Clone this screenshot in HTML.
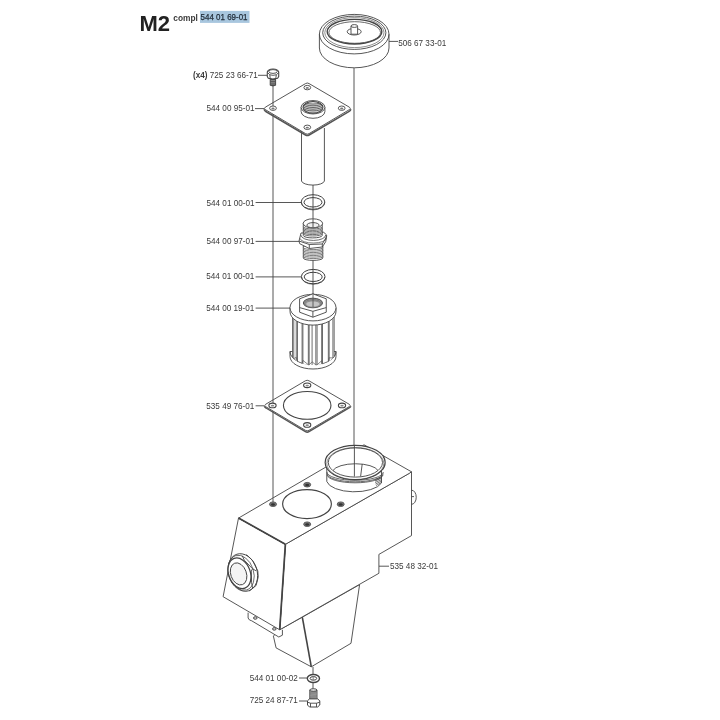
<!DOCTYPE html>
<html><head><meta charset="utf-8">
<style>
html,body{margin:0;padding:0;background:#fff;}
svg{display:block;will-change:transform;}
text{font-family:"Liberation Sans",sans-serif;fill:#3a3a3a;}
</style></head><body>
<svg width="720" height="720" viewBox="0 0 720 720">
<g id="lines" stroke="#444" stroke-width="0.9" fill="none">
<!-- leaders -->
<path d="M389 41.4H398 M258 75.3H267 M255 108.6H264 M255.6 202.5H301.2 M255.6 241.4H299.4 M255.6 276.9H301.4 M255.6 308.1H290 M255.6 405.8H264 M379 566.2H389 M299 678H307.4 M299 701H307.4"/>
<!-- long verticals -->
<path d="M354 68V445 M273 86V501.7"/>
<!-- centerline -->
<path d="M313 185V297 M313 666.8V690"/>
</g>
<g id="title">
<text x="139.5" y="30.5" font-size="22" font-weight="bold" fill="#222" style="fill:#222">M2</text>
<text x="173.3" y="20.5" font-size="9" font-weight="bold" textLength="24.6" lengthAdjust="spacingAndGlyphs">compl</text>
<rect x="200" y="10.9" width="49.5" height="12" fill="#a8c6de"/>
<text x="200.6" y="19.9" font-size="9" textLength="46.9" lengthAdjust="spacingAndGlyphs" style="fill:#1f2a36;stroke:#1f2a36;stroke-width:0.25">544 01 69-01</text>
</g>

<g id="housing" stroke="#444" stroke-width="0.9" fill="#fff" stroke-linejoin="round">
<!-- lower tapered section -->
<path d="M273.4 636.1L276.1 647.9L311.3 666.8L351 643.3L359.6 584.6L302.3 617.2L279.7 629.8Z"/>
<path d="M302.3 617.2L311.3 666.8" stroke-width="1.6"/>
<!-- bracket -->
<path d="M248.1 612.6V618Q249 620.5 251.7 620.8L278.8 637L282.4 635.2V629.8"/>
<ellipse cx="255.3" cy="618" rx="1.8" ry="1.3" fill="#ccc"/>
<ellipse cx="274.3" cy="628.9" rx="1.8" ry="1.3" fill="#ccc"/>
<!-- right face -->
<path d="M285.4 544.3L409.5 473.2L411.5 471.8V535.6L378.9 554.4V573.3L279.7 629.8Z"/>
<!-- left face -->
<path d="M238.5 518.1L223.1 596.7L279.7 629.8L285.4 544.3Z"/>
<path d="M285.4 544.3L279.7 629.8" stroke-width="1.7"/>
<!-- top face -->
<path d="M238.5 518.1L364 444.8L411.5 471.8L409.5 473.2L285.4 544.3Z"/>
<path d="M238.5 518.1L285.4 544.3" stroke-width="1.7"/>
<!-- top opening and holes -->
<path d="M273 498.2V502" fill="none"/>
<ellipse cx="307" cy="504.1" rx="24.4" ry="14.5" stroke-width="1.15"/>
<ellipse cx="273" cy="504.2" rx="3.5" ry="2.3" fill="#777" stroke="#555"/><ellipse cx="273" cy="504.5" rx="2" ry="1.2" fill="#333" stroke="none"/>
<ellipse cx="307.2" cy="484.7" rx="3.5" ry="2.3" fill="#777" stroke="#555"/><ellipse cx="307.2" cy="485.0" rx="2" ry="1.2" fill="#333" stroke="none"/>
<ellipse cx="340.7" cy="504.2" rx="3.5" ry="2.3" fill="#777" stroke="#555"/><ellipse cx="340.7" cy="504.5" rx="2" ry="1.2" fill="#333" stroke="none"/>
<ellipse cx="307.2" cy="524.2" rx="3.5" ry="2.3" fill="#777" stroke="#555"/><ellipse cx="307.2" cy="524.5" rx="2" ry="1.2" fill="#333" stroke="none"/>
<!-- knob right -->
<path d="M411.6 490.2A4.6 7 0 0 1 411.6 504.3 M411.6 496.6H414" fill="none"/>
<!-- neck -->
<path d="M326.8 466V481.5A28 12 0 0 0 381.5 483V466Z"/>
<path d="M326.9 472A28.2 8.3 0 0 0 383.3 472 M327 473.5A28.1 8.3 0 0 0 383.2 473.5 M327.1 475A28 8.3 0 0 0 383 475" fill="none" stroke-width="0.8"/>
<path d="M375 479.5L382 476.5 M375 481L382 478 M375 482.5L382 479.5 M375.5 484L381.8 481 M376 485.5L381.5 482.5" fill="none" stroke-width="0.7"/>
<ellipse cx="355.15" cy="462.5" rx="30" ry="17.2" stroke-width="1.2"/>
<ellipse cx="355.4" cy="462.5" rx="27.1" ry="14.6"/>
<ellipse cx="355.3" cy="463.5" rx="28.5" ry="16" fill="none" stroke-width="0.6"/>
<path d="M333 470.5A23 8.5 0 0 1 378 470.5" fill="none"/>
<path d="M354.4 445V476.5 M362.2 464L360.6 476.5" fill="none"/>
<!-- sight glass -->
<ellipse cx="242.8" cy="572.5" rx="14.3" ry="19.2" transform="rotate(-18 242.8 572.5)"/>
<ellipse cx="241.2" cy="572.8" rx="12.4" ry="18" transform="rotate(-18 241.2 572.8)" fill="none" stroke-width="0.7"/>
<ellipse cx="239.5" cy="573.3" rx="10.8" ry="15.8" transform="rotate(-20 239.5 573.3)" stroke-width="1.3"/>
<ellipse cx="238.6" cy="573.9" rx="7.8" ry="11.4" transform="rotate(-20 238.6 573.9)" fill="#f4f4f4"/>
<path d="M242.2 555.6L244.3 560.2L252.6 568.8L256.1 570.9 M252.6 568.8L251.25 570.9L251.6 582.7L252.6 588.3 M246.4 554.6L252.6 560.5L257.8 570.9L258.2 577.2L256.1 585.5L249.2 591" fill="none" stroke-width="0.9"/>
</g>

<g id="bottom" stroke="#444" stroke-width="0.9" fill="#fff">
<ellipse cx="313.4" cy="678.5" rx="6.1" ry="4" stroke-width="1.4"/>
<ellipse cx="313.4" cy="678.4" rx="3.3" ry="1.8" stroke-width="1"/>
<path d="M313.2 676.6V680.2" stroke="#666" stroke-width="0.8"/>
<path d="M309.8 690V700H317V690Z" fill="#777"/>
<path d="M309.9 691.6L317 692.1 M309.9 692.9L317 693.4 M309.9 694.2L317 694.7 M309.9 695.5L317 696.0 M309.9 696.8L317 697.3 M309.9 698.1L317 698.6 " stroke="#aaa" stroke-width="0.6"/>
<ellipse cx="313.4" cy="690" rx="3.6" ry="1.3" fill="#e8e8e8"/>
<path d="M307.5 700.8L309.5 698.9H317.6L319.8 700.8V705L317.6 707H309.5L307.5 705Z" stroke-width="1"/>
<path d="M307.5 702.2L310.5 703.2H316.5L319.8 702.2 M310.5 703.2V707 M316.5 703.2V707" fill="none"/>
</g>
<g id="labels" font-size="9">
<text x="398.2" y="45.6" textLength="48" lengthAdjust="spacingAndGlyphs">506 67 33-01</text>
<text x="206.5" y="111.2" textLength="48" lengthAdjust="spacingAndGlyphs">544 00 95-01</text>
<text x="206.5" y="205.6" textLength="48" lengthAdjust="spacingAndGlyphs">544 01 00-01</text>
<text x="206.5" y="244.0" textLength="48" lengthAdjust="spacingAndGlyphs">544 00 97-01</text>
<text x="206.3" y="279.3" textLength="48" lengthAdjust="spacingAndGlyphs">544 01 00-01</text>
<text x="206.3" y="311.0" textLength="48" lengthAdjust="spacingAndGlyphs">544 00 19-01</text>
<text x="206.3" y="408.6" textLength="48" lengthAdjust="spacingAndGlyphs">535 49 76-01</text>
<text x="390.0" y="568.7" textLength="48" lengthAdjust="spacingAndGlyphs">535 48 32-01</text>
<text x="249.7" y="680.8" textLength="48" lengthAdjust="spacingAndGlyphs">544 01 00-02</text>
<text x="249.7" y="703.3" textLength="48" lengthAdjust="spacingAndGlyphs">725 24 87-71</text>
<text x="193" y="78.3" textLength="64.8" lengthAdjust="spacingAndGlyphs"><tspan font-weight="bold">(x4)</tspan> 725 23 66-71</text>
</g>


<g id="cap" stroke="#444" stroke-width="0.9" fill="none">
<path d="M319.4 34.2V48A34.8 19.8 0 0 0 389 48V34.2"/>
<ellipse cx="354.2" cy="34.15" rx="34.8" ry="19.75"/>
<ellipse cx="354.3" cy="32.75" rx="31.6" ry="16.65"/>
<ellipse cx="354.4" cy="32.6" rx="29.6" ry="15" stroke-width="0.6"/>
<ellipse cx="354.5" cy="31.7" rx="27.3" ry="12.3" stroke-width="1.4"/>
<ellipse cx="354.7" cy="32.5" rx="25.8" ry="10.8" stroke-width="0.8"/>
<ellipse cx="354.2" cy="31.7" rx="7" ry="3.3"/>
<path d="M351 26V34.2H357.6V26" fill="#fff"/>
<ellipse cx="354.3" cy="26" rx="3.3" ry="1.4" fill="#fff"/>
</g>

<g id="bolt1" stroke="#444" stroke-width="0.9" fill="#fff">
<path d="M270.2 78.5V85.3Q272.9 86.6 275.6 85.3V78.5Z" fill="#4a4a4a"/>
<path d="M270.8 80.6H275 M270.8 82.3H275 M270.8 84H275" stroke="#bbb" stroke-width="0.6"/>
<path d="M267.3 72Q268 69.2 273 69Q278 69.2 278.7 72V76.5L277.6 78.2L272.8 79L268.3 78.2L267.3 76.5Z" stroke-width="1.1"/>
<ellipse cx="273" cy="71.5" rx="4.2" ry="1.9" stroke-width="0.9"/>
<path d="M267.6 72.6L269.8 74.8L273 75.3L276.3 74.8L278.4 72.8 M269.8 74.8L270.2 78.5 M276.3 74.8L275.8 78.5" fill="none" stroke-width="0.9"/>
</g>
<g id="plate" stroke="#444" stroke-width="0.9" fill="#fff">
<path d="M301.5 128V181A11.5 4.5 0 0 0 324.4 181V128"/>
<path d="M305.5 83.6Q307.3 82.4 309.1 83.6L349.4 107.2Q351.2 108.4 349.4 109.6L309.1 133.6Q307.3 134.8 305.5 133.6L265.3 109.6Q263.5 108.4 265.3 107.2Z"/>
<path d="M264 109.3Q264.5 110.8 265.8 111.5L305.5 135Q307.3 136.1 309.1 135L349.2 111.3Q350.5 110.6 350.9 109.3" fill="none" stroke-width="1.5" stroke="#555"/>
<ellipse cx="307.3" cy="87.6" rx="3.4" ry="2.2"/><ellipse cx="307.3" cy="87.89999999999999" rx="1.6" ry="0.9" fill="#777" stroke="none"/>
<ellipse cx="273" cy="108.2" rx="3.4" ry="2.2"/><ellipse cx="273" cy="108.5" rx="1.6" ry="0.9" fill="#777" stroke="none"/>
<ellipse cx="341.7" cy="108.2" rx="3.4" ry="2.2"/><ellipse cx="341.7" cy="108.5" rx="1.6" ry="0.9" fill="#777" stroke="none"/>
<ellipse cx="307.3" cy="127.3" rx="3.4" ry="2.2"/><ellipse cx="307.3" cy="127.6" rx="1.6" ry="0.9" fill="#777" stroke="none"/>
<clipPath id="bore"><ellipse cx="313" cy="107.3" rx="10" ry="5.8"/></clipPath>
<path d="M301.1 107.25V111.6A11.9 6.7 0 0 0 324.9 111.6V107.25"/>
<ellipse cx="313" cy="107.25" rx="11.9" ry="6.7"/>
<ellipse cx="313" cy="107.3" rx="10" ry="5.8" fill="#dedede" stroke-width="1.1"/>
<path d="M303 100.5A10 3.6 0 0 0 323 100.5 M303 102.2A10 3.6 0 0 0 323 102.2 M303 103.9A10 3.6 0 0 0 323 103.9 M303 105.6A10 3.6 0 0 0 323 105.6 M303 107.3A10 3.6 0 0 0 323 107.3 " fill="none" stroke="#555" stroke-width="0.9" clip-path="url(#bore)"/>
<path d="M273 102.6V106" fill="none"/>
</g>

<g id="oring1" stroke="#404040" stroke-width="1" fill="none">
<path d="M301.4 202.6A11.7 7.3 0 0 0 324.8 202.6" stroke-width="0.7"/>
<ellipse cx="313" cy="202" rx="11.8" ry="7.3"/>
<ellipse cx="313" cy="202.3" rx="9" ry="4.7"/>
</g>
<g id="oring2" stroke="#404040" stroke-width="1" fill="none">
<path d="M301.5 277A11.7 7.2 0 0 0 324.9 277" stroke-width="0.7"/>
<ellipse cx="313.2" cy="276.6" rx="11.8" ry="7.2"/>
<ellipse cx="313.2" cy="276.9" rx="9" ry="4.6"/>
</g>
<g id="fitting" stroke="#444" stroke-width="0.9" fill="#fff">
<path d="M303.3 246V258A9.75 2.4 0 0 0 322.8 258V246Z"/>
<path d="M303.4 247.6A9.7 2 0 0 0 322.8 247.6 M303.4 249.1A9.7 2 0 0 0 322.8 249.1 M303.4 250.6A9.7 2 0 0 0 322.8 250.6 M303.4 252.1A9.7 2 0 0 0 322.8 252.1 M303.4 253.6A9.7 2 0 0 0 322.8 253.6 M303.4 255.1A9.7 2 0 0 0 322.8 255.1 M303.4 256.6A9.7 2 0 0 0 322.8 256.6 " fill="none" stroke-width="0.75" stroke="#555"/>
<path d="M299 241L301 233L323.7 232.3L326.7 235L325.7 241.7L322.3 247L309.3 248.5L299.7 243.7Z"/>
<path d="M299 241L309.3 244.5L322.3 244L326.6 236.5 M309.3 244.5V248.5 M322.3 244V247" fill="none"/>
<path d="M301 235.2A12.1 5.2 0 0 0 325.7 235" fill="none" stroke-width="0.8"/>
<path d="M300.2 238.5A12.8 4.6 0 0 0 326.3 238.2" fill="none" stroke-width="0.7"/>
<path d="M303.3 223V235.5A9.45 2.4 0 0 0 322.2 235.5V223Z"/>
<path d="M303.4 226.8A9.4 2.2 0 0 0 322.2 226.8 M303.4 228.2A9.4 2.2 0 0 0 322.2 228.2 M303.4 229.6A9.4 2.2 0 0 0 322.2 229.6 M303.4 231.0A9.4 2.2 0 0 0 322.2 231.0 M303.4 232.4A9.4 2.2 0 0 0 322.2 232.4 M303.4 233.8A9.4 2.2 0 0 0 322.2 233.8 " fill="none" stroke-width="0.8" stroke="#4a4a4a"/>
<ellipse cx="312.9" cy="223.4" rx="9.7" ry="4.6"/>
<ellipse cx="313" cy="225.2" rx="6.1" ry="2.6" fill="#f0f0f0"/>
<path d="M313 219V227.5" fill="none"/>
</g>
<g id="filter" stroke="#444" stroke-width="0.9" fill="#fff">
<path d="M290 351.5V356.5A23 12.5 0 0 0 336 356.5V351.5Z"/>
<path d="M290 351.5A23 13 0 0 0 336 351.5" fill="none"/>
<path d="M292.5 318V354A20.75 11 0 0 0 334 354V318Z" stroke="none"/>
<path d="M292.50 317.63V357.35 M293.75 318.88V358.66 M296.25 320.71V360.59 M297.50 321.43V361.34 M302.08 323.31V363.32 M302.92 323.55V363.58 M308.33 324.62V364.71 M309.17 324.71V364.80 M312.08 324.89V364.99 M315.83 324.80V364.89 M317.08 324.69V364.78 M321.67 323.92V363.97 M322.50 323.71V363.75 M328.33 321.51V361.43 M329.17 321.06V360.96 M332.92 318.25V358.00 M334.17 316.80V356.48 " fill="none" stroke-width="0.8" stroke="#4a4a4a"/>
<path d="M293.75 358.66L293.75 358.66L296.25 357.39L297.50 361.34L302.08 363.32L302.92 360.38L308.33 364.71L309.17 364.80L312.08 361.79L315.83 364.89L317.08 364.78L321.67 360.77L322.50 363.75L328.33 361.43L329.17 357.76L332.92 358.00" fill="none" stroke-width="0.7" stroke="#555"/>
<path d="M290 307.6V311.6A23 13.5 0 0 0 336 311.6V307.6Z"/>
<ellipse cx="313" cy="307.6" rx="23" ry="13.3"/>
<path d="M299.6 298.8L312.9 293.8L326.25 298.8V312.2L312.9 317.2L299.6 312.2Z"/>
<path d="M299.6 307.6L312.9 311.3L326.25 307.6 M312.9 311.3V317.2" fill="none"/>
<ellipse cx="312.9" cy="303" rx="9.6" ry="4.8" fill="#9a9a9a"/>
<ellipse cx="312.9" cy="303.5" rx="8.4" ry="3.9" fill="none" stroke="#666" stroke-width="0.6"/>
<ellipse cx="312.9" cy="304" rx="7.2" ry="3.1" fill="#c4c4c4" stroke="#777" stroke-width="0.6"/>
<path d="M313 293.5V307" fill="none" stroke="#555"/>
</g>
<g id="gasket" stroke="#444" stroke-width="0.9" fill="#fff">
<path d="M264.2 406.2Q264.8 407.4 266 408L305.4 431.6Q307.2 432.8 309 431.6L349.5 407.6Q350.6 407 350.9 406.2" fill="none" stroke-width="1.4" stroke="#555"/>
<path d="M305.4 380.8Q307.2 379.7 309 380.8L349.3 404.3Q351 405.4 349.3 406.6L309 430.3Q307.2 431.4 305.4 430.3L265.6 406.6Q263.9 405.4 265.6 404.3Z"/>
<ellipse cx="307.2" cy="405.4" rx="23.75" ry="13.9" stroke-width="1.1"/>
<path d="M273 400V403.3" fill="none"/>
<ellipse cx="307.2" cy="385.3" rx="3.6" ry="2.3" stroke-width="1.1"/><ellipse cx="307.2" cy="385.6" rx="1.7" ry="0.9" fill="#888" stroke="none"/>
<ellipse cx="272.5" cy="405.4" rx="3.6" ry="2.3" stroke-width="1.1"/><ellipse cx="272.5" cy="405.7" rx="1.7" ry="0.9" fill="#888" stroke="none"/>
<ellipse cx="342" cy="405.4" rx="3.6" ry="2.3" stroke-width="1.1"/><ellipse cx="342" cy="405.7" rx="1.7" ry="0.9" fill="#888" stroke="none"/>
<ellipse cx="307.2" cy="424.9" rx="3.6" ry="2.3" stroke-width="1.1"/><ellipse cx="307.2" cy="425.2" rx="1.7" ry="0.9" fill="#888" stroke="none"/>
</g>

</svg>
</body></html>
